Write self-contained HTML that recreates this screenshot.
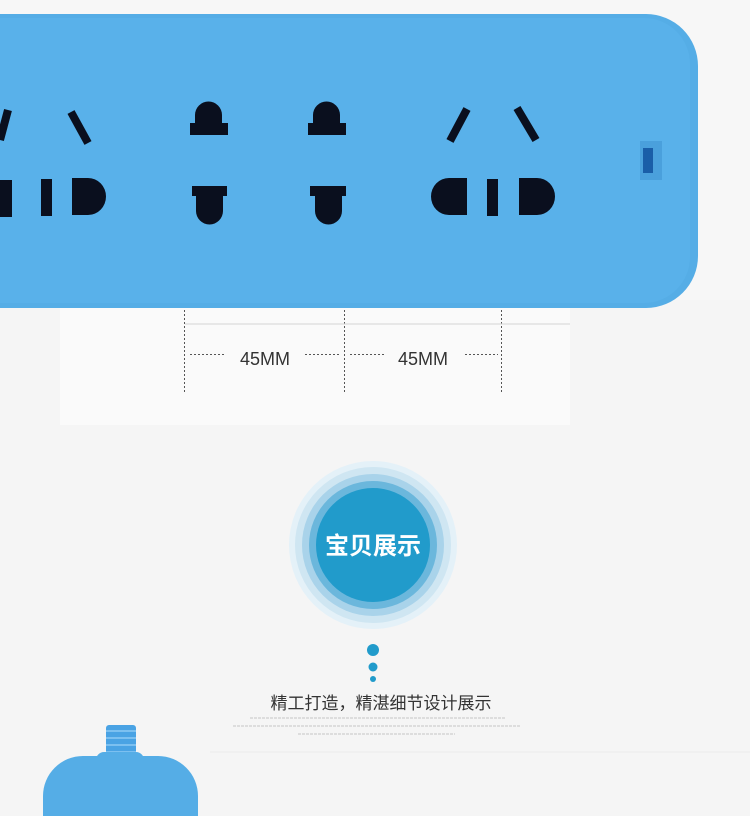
<!DOCTYPE html>
<html><head><meta charset="utf-8"><style>
body{margin:0;width:750px;height:789px;overflow:hidden;background:#f5f5f5;position:relative;font-family:"Liberation Sans","Noto Sans CJK SC",sans-serif}
.a{position:absolute}
</style></head><body>
<div class="a" style="left:0;top:0;width:750px;height:300px;background:#f7f7f7"></div>
<div class="a" style="left:60px;top:305px;width:510px;height:120px;background:#fafafa"></div>
<!-- strip -->
<div class="a" style="left:-60px;top:14px;width:758px;height:294px;background:#55ade6;border-radius:0 52px 52px 0"></div>
<div class="a" style="left:0;top:18px;width:690px;height:285px;border-radius:0 46px 46px 0;background:#59b1ea"></div>
<svg class="a" style="left:0;top:0" width="750" height="400">
<g stroke="#0a0f1e" stroke-width="8" stroke-linecap="butt">
<line x1="8" y1="110" x2="0" y2="140"/>
<line x1="71" y1="112" x2="88" y2="143"/>
<line x1="467" y1="109" x2="450" y2="141"/>
<line x1="517" y1="108" x2="536" y2="140"/>
</g>
<g fill="#0a0f1e">
<path d="M0 180h12v37h-12z"/>
<rect x="41" y="179" width="11" height="37"/>
<path d="M72 178h16a18 18.5 0 0 1 0 37h-16z"/>
<!-- socket 1 -->
<path d="M195 123V115a13.5 13.5 0 0 1 27 0V123H228V135H190V123Z"/>
<path d="M192 186H227V196H223V211a13.5 13.5 0 0 1 -27 0V196H192Z"/>
<!-- socket 2 -->
<path d="M313 123V115a13.5 13.5 0 0 1 27 0V123H346V135H308V123Z"/>
<path d="M310 186H346V196H342V211a13.5 13.5 0 0 1 -27 0V196H310Z"/>
<!-- socket 3 -->
<path d="M467 178h-18a18 18.5 0 0 0 0 37h18z"/>
<rect x="487" y="179" width="11" height="37"/>
<path d="M519 178h18a18 18.5 0 0 1 0 37h-18z"/>
</g>
<rect x="640" y="141" width="22" height="39" fill="#4aa0dc"/>
<rect x="643" y="148" width="10" height="25" fill="#1a5ea8"/>
<g stroke="#555" stroke-width="1" stroke-dasharray="2,2">
<line x1="184.5" y1="310" x2="184.5" y2="392"/>
<line x1="344.5" y1="310" x2="344.5" y2="392"/>
<line x1="501.5" y1="310" x2="501.5" y2="392"/>
<line x1="190" y1="354.5" x2="225" y2="354.5"/>
<line x1="305" y1="354.5" x2="340" y2="354.5"/>
<line x1="350" y1="354.5" x2="385" y2="354.5"/>
<line x1="465" y1="354.5" x2="498" y2="354.5"/>
</g>
<line x1="185" y1="324" x2="570" y2="324" stroke="#d4d4d4"/>
<text x="265" y="365" text-anchor="middle" font-size="18" fill="#333" font-family="Liberation Sans">45MM</text>
<text x="423" y="365" text-anchor="middle" font-size="18" fill="#333" font-family="Liberation Sans">45MM</text>
</svg>
<svg class="a" style="left:0;top:440" width="750" height="349">
<circle cx="373" cy="105" r="84" fill="#e4f1f8"/>
<circle cx="373" cy="105" r="78" fill="#cfe6f2"/>
<circle cx="373" cy="105" r="71" fill="#a9d3ea"/>
<circle cx="373" cy="105" r="64" fill="#6bb7dc"/>
<circle cx="373" cy="105" r="57" fill="#219bcb"/>
<text x="373" y="114" text-anchor="middle" font-size="24" font-weight="bold" fill="#fff" font-family="Noto Sans CJK SC,sans-serif">宝贝展示</text>
<circle cx="373" cy="210" r="6" fill="#219bcb"/>
<circle cx="373" cy="227" r="4.5" fill="#219bcb"/>
<circle cx="373" cy="239" r="3" fill="#219bcb"/>
<text x="381" y="269" text-anchor="middle" font-size="17" fill="#333" font-family="Noto Sans CJK SC,sans-serif">精工打造，精湛细节设计展示</text>
<g stroke="#ddd" stroke-width="2" stroke-dasharray="3,1">
<line x1="250" y1="278" x2="505" y2="278"/>
<line x1="233" y1="286" x2="520" y2="286"/>
<line x1="298" y1="294" x2="455" y2="294"/>
</g>
<line x1="210" y1="312" x2="750" y2="312" stroke="#eaeaea"/>
</svg>
<!-- plug -->
<div class="a" style="left:106px;top:725px;width:30px;height:30px;background:repeating-linear-gradient(#4aa3e4 0 5px,#7cc0f0 5px 7px);border-radius:3px"></div>
<div class="a" style="left:96px;top:752px;width:48px;height:10px;background:#55ade6;border-radius:8px 8px 0 0"></div>
<div class="a" style="left:43px;top:756px;width:155px;height:60px;background:#55ade6;border-radius:40px 40px 0 0"></div>
</body></html>
